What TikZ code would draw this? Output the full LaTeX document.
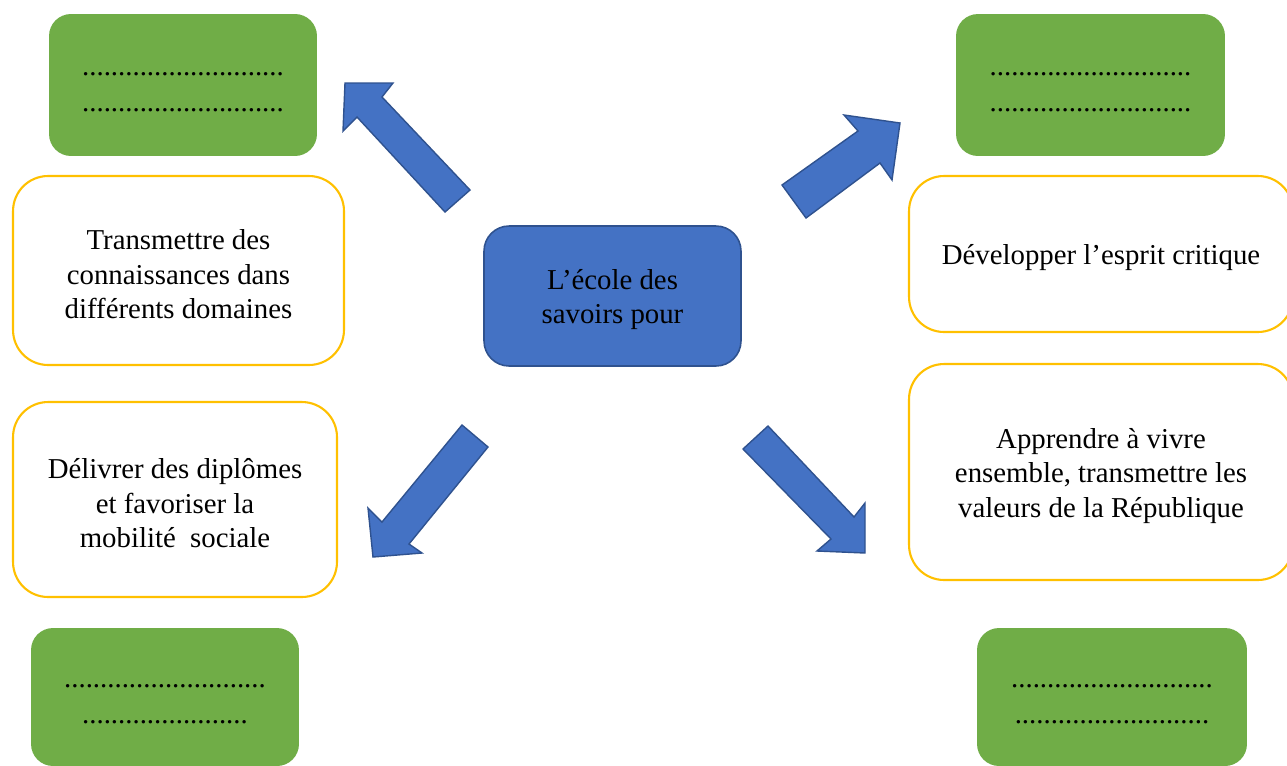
\documentclass[tikz,border=0pt]{standalone}
\usepackage{fontspec}
\setmainfont{Liberation Serif}
\definecolor{leafgreen}{HTML}{70AD47}
\definecolor{gold}{HTML}{FFC000}
\definecolor{blockblue}{HTML}{4472C4}
\definecolor{blockedge}{HTML}{2F528F}
\tikzset{
  basetext/.style={font=\fontsize{16.4}{19.6}\selectfont, align=center, inner sep=0pt, outer sep=0pt},
  greenbox/.style={basetext, fill=leafgreen, rounded corners=0.44cm, font=\fontsize{16.4}{20.4}\selectfont},
  goldbox/.style={basetext, draw=gold, fill=white, line width=1.2pt, rounded corners=0.7cm},
  hubbox/.style={basetext, draw=blockedge, fill=blockblue, line width=0.9pt, rounded corners=0.5cm},
  blockarrow/.style={draw=blockedge, fill=blockblue, line width=0.8pt, line join=miter}
}
% taller first line so the text block sits like Word's line boxes
\newcommand{\toptext}{\rule{0pt}{15.6pt}}
\newcommand{\topdots}{\rule{0pt}{10pt}}
\newcommand{\dotrow}[1]{\foreach \k in {1,...,#1}{.}}
\begin{document}
\begin{tikzpicture}[x=0.02cm, y=-0.02cm]
  \useasboundingbox (0,0) rectangle (1287,765);
  \clip (0,0) rectangle (1287,765);

  % centre
  \node[hubbox, minimum width=5.14cm, minimum height=2.8cm] (hub) at (612.5,296)
    {\toptext L’école des\\savoirs pour};

  % left column
  \node[greenbox, minimum width=5.36cm, minimum height=2.84cm] (gtl) at (183,85)
    {\topdots\dotrow{28}\\\dotrow{28}};
  \node[goldbox, minimum width=6.62cm, minimum height=3.78cm] (ytl) at (178.5,270.5)
    {\toptext Transmettre des\\connaissances dans\\différents domaines};
  \node[goldbox, minimum width=6.48cm, minimum height=3.9cm] (ybl) at (175,499.5)
    {\toptext Délivrer des diplômes\\et favoriser la\\mobilité\ \ sociale};
  \node[greenbox, minimum width=5.36cm, minimum height=2.76cm] (gbl) at (165,697)
    {\topdots\dotrow{28}\\\dotrow{23}};

  % right column
  \node[greenbox, minimum width=5.38cm, minimum height=2.84cm] (gtr) at (1090.5,85)
    {\topdots\dotrow{28}\\\dotrow{28}};
  \node[goldbox, minimum width=7.68cm, minimum height=3.12cm] (ytr) at (1101,254)
    {\toptext Développer l’esprit critique};
  \node[goldbox, minimum width=7.68cm, minimum height=4.32cm] (ybr) at (1101,472)
    {\toptext Apprendre à vivre\\ensemble, transmettre les\\valeurs de la République};
  \node[greenbox, minimum width=5.4cm, minimum height=2.76cm] (gbr) at (1112,697)
    {\topdots\dotrow{28}\\\dotrow{27}};

  % block arrows radiating from the centre
  \draw[blockarrow] (345,83) -- (393,83) -- (382,97) -- (470,190) -- (445,212)
    -- (357,117) -- (343,131) -- cycle;
  \draw[blockarrow] (900,123) -- (844,115) -- (858,131) -- (782,185) -- (806,218)
    -- (880,163) -- (892,180) -- cycle;
  \draw[blockarrow] (373,557) -- (368,508) -- (382,522) -- (462,425) -- (488,447)
    -- (409,544) -- (422,553) -- cycle;
  \draw[blockarrow] (865,553) -- (817,551) -- (831,539) -- (743,449) -- (768,426)
    -- (854,517) -- (865,503) -- cycle;
\end{tikzpicture}
\end{document}
